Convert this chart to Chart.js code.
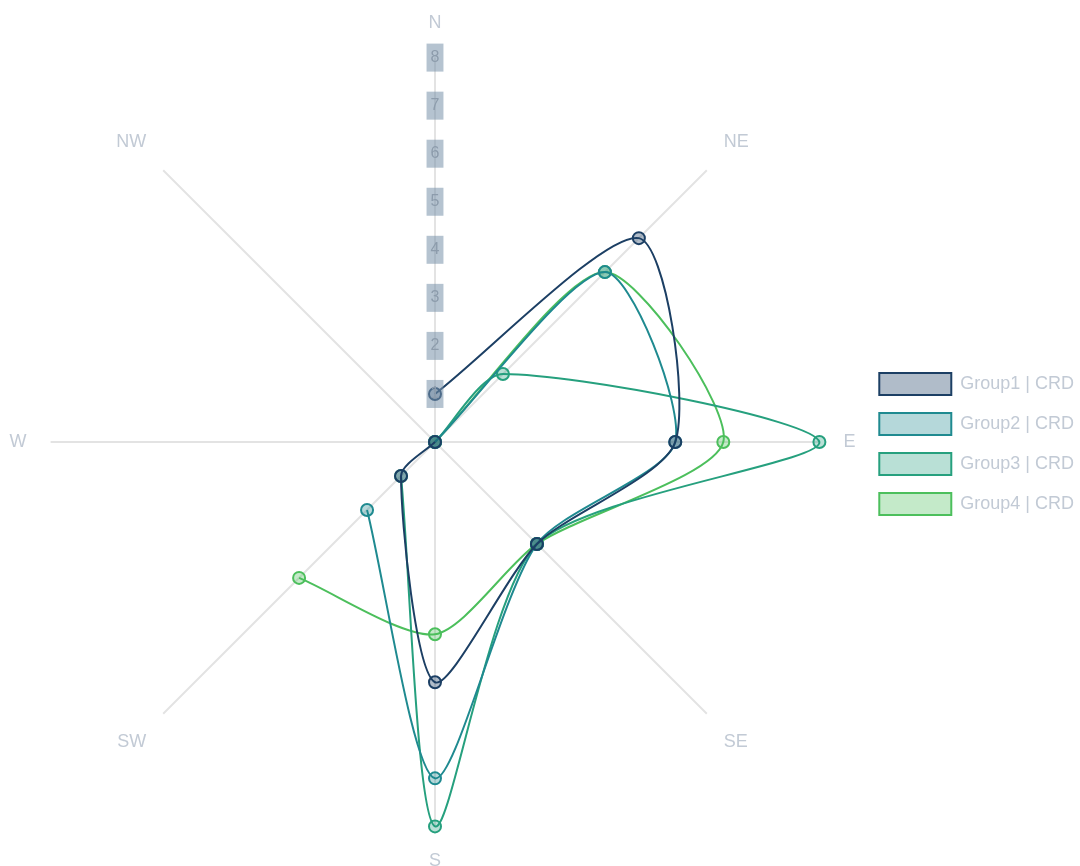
<!DOCTYPE html>
<html>
<head>
<meta charset="utf-8">
<script src="https://cdn.jsdelivr.net/npm/chart.js@4"></script>
<style>
    html, body { margin: 0; padding: 0; background: #ffffff; overflow: hidden; }
    .chart-wrap { position: relative; width: 1084px; height: 873px; }
</style>
</head>
<body>
<div class="chart-wrap">
    <canvas id="windChart"></canvas>
</div>
<script>
// Directions and values per group (null = no reading, line is broken there)
const directions = ['N', 'NE', 'E', 'SE', 'S', 'SW', 'W', 'NW'];
const group1 = [1, 6, 5, 3, 5, 1, 0, null];
const group2 = [0, 5, 5, 3, 7, 2, null, null];
const group3 = [0, 2, 8, 3, 8, 1, null, null];
const group4 = [0, 5, 6, 3, 4, 4, null, null];
const groupNames = ['Group1 | CRD', 'Group2 | CRD', 'Group3 | CRD', 'Group4 | CRD'];
const tickValues = [0, 1, 2, 3, 4, 5, 6, 7, 8];

const lineColors = ['#1c3f64', '#1f8a90', '#26a07e', '#4cbf5c'];
const fillColors = ['rgba(28, 63, 100, 0.35)', 'rgba(31, 138, 144, 0.33)', 'rgba(38, 160, 126, 0.32)', 'rgba(76, 191, 92, 0.33)'];

const baseFont = 'Liberation Sans, Arial, sans-serif';

function makeDataset(i, values) {
    return {
        label: groupNames[i],
        data: values,
        borderColor: lineColors[i],
        backgroundColor: fillColors[i],
        pointBackgroundColor: fillColors[i],
        pointBorderColor: lineColors[i],
        pointRadius: 6,
        pointBorderWidth: 2,
        borderWidth: 2,
        fill: false,
        spanGaps: false,
        tension: 0.25
    };
}

document.addEventListener('DOMContentLoaded', function () {
    const ctx = document.getElementById('windChart').getContext('2d');

    new Chart(ctx, {
        type: 'radar',
        data: {
            labels: directions,
            datasets: [
                makeDataset(0, group1),
                makeDataset(1, group2),
                makeDataset(2, group3),
                makeDataset(3, group4)
            ]
        },
        options: {
            responsive: true,
            maintainAspectRatio: false,
            animation: false,
            layout: {
                padding: { top: 12, bottom: 0, left: 4, right: 0 }
            },
            plugins: {
                legend: {
                    position: 'right',
                    // empty title only nudges the items down a little
                    title: {
                        display: true,
                        text: ' ',
                        font: { size: 1 },
                        padding: { top: 1, bottom: 1 }
                    },
                    labels: {
                        boxWidth: 72,
                        boxHeight: 22,
                        padding: 18,
                        color: '#c2cad5',
                        font: { family: baseFont, size: 18 }
                    }
                },
                tooltip: { enabled: false }
            },
            scales: {
                r: {
                    min: 0,
                    max: 8,
                    afterBuildTicks: function (scale) {
                        scale.ticks = tickValues.map(v => ({ value: v }));
                    },
                    grid: { display: false },
                    angleLines: {
                        color: '#e3e3e3',
                        lineWidth: 2
                    },
                    ticks: {
                        color: '#8d9cac',
                        showLabelBackdrop: true,
                        backdropColor: 'rgba(120, 145, 170, 0.55)',
                        backdropPadding: { x: 4, y: 6 },
                        font: { family: baseFont, size: 16 },
                        z: 1
                    },
                    pointLabels: {
                        color: '#c2cad5',
                        padding: 10,
                        font: { family: baseFont, size: 18 }
                    }
                }
            }
        }
    });
});
</script>
</body>
</html>
